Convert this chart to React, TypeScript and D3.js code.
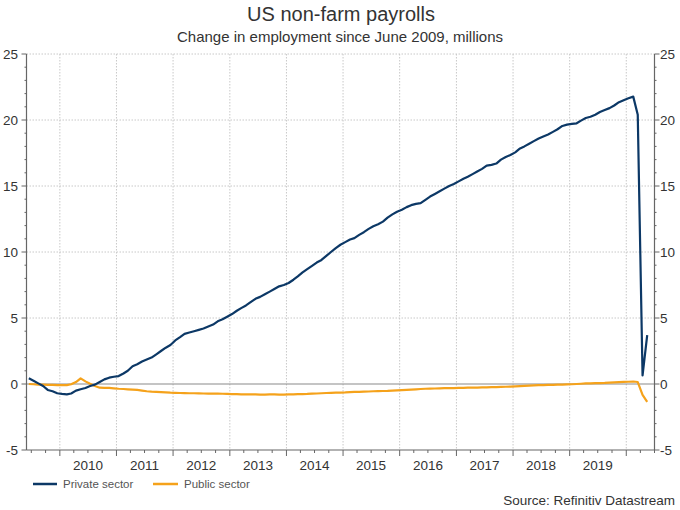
import React from "react";
import * as d3 from "d3";

// Monthly values, June 2009 .. May 2020 (millions, change since June 2009)
const startYear = 2009;
const startMonth = 5; // June (0-based)

const privateSector: number[] = [
  // 2009 Jun-Dec
  0.43, 0.25, 0.05, -0.15, -0.45, -0.55, -0.7,
  // 2010
  -0.75, -0.78, -0.72, -0.5, -0.4, -0.3, -0.15, -0.05, 0.15, 0.35, 0.48, 0.55,
  // 2011
  0.6, 0.8, 1.0, 1.35, 1.5, 1.7, 1.85, 2.0, 2.25, 2.5, 2.75, 2.95,
  // 2012
  3.3, 3.55, 3.8, 3.9, 4.0, 4.1, 4.2, 4.35, 4.5, 4.75, 4.9, 5.1,
  // 2013
  5.3, 5.55, 5.75, 5.95, 6.2, 6.45, 6.6, 6.8, 7.0, 7.2, 7.4, 7.5,
  // 2014
  7.65, 7.9, 8.15, 8.45, 8.7, 8.95, 9.2, 9.4, 9.7, 10.0, 10.3, 10.55,
  // 2015
  10.75, 10.95, 11.05, 11.3, 11.5, 11.75, 11.95, 12.1, 12.3, 12.6, 12.85, 13.05,
  // 2016
  13.2, 13.4, 13.55, 13.65, 13.7, 13.95, 14.2, 14.4, 14.6, 14.8, 15.0, 15.15,
  // 2017
  15.35, 15.55, 15.7, 15.9, 16.1, 16.3, 16.55, 16.6, 16.7, 17.0, 17.2, 17.35,
  // 2018
  17.55, 17.85, 18.0, 18.2, 18.4, 18.6, 18.75, 18.9, 19.1, 19.3, 19.55, 19.65,
  // 2019
  19.7, 19.75, 19.95, 20.15, 20.25, 20.4, 20.6, 20.75, 20.9, 21.1, 21.35, 21.5,
  // 2020 Jan-May
  21.65, 21.77, 20.4, 0.65, 3.7,
];

const publicSector: number[] = [
  // 2009 Jun-Dec
  0, -0.02, -0.04, -0.05, -0.06, -0.07, -0.08,
  // 2010
  -0.08, -0.08, -0.02, 0.15, 0.43, 0.2, 0.02, -0.15, -0.28, -0.3, -0.3, -0.33,
  // 2011
  -0.36, -0.38, -0.4, -0.42, -0.45, -0.5, -0.55, -0.58, -0.6, -0.62, -0.64, -0.66,
  // 2012
  -0.67, -0.68, -0.69, -0.7, -0.7, -0.71, -0.72, -0.73, -0.72, -0.73, -0.74, -0.75,
  // 2013
  -0.76, -0.77, -0.78, -0.78, -0.78, -0.79, -0.8, -0.8, -0.79, -0.79, -0.8, -0.8,
  // 2014
  -0.79, -0.78, -0.77, -0.76, -0.75, -0.73, -0.72, -0.7, -0.68, -0.67, -0.66, -0.65,
  // 2015
  -0.64, -0.62, -0.6, -0.6, -0.58, -0.57, -0.55, -0.54, -0.53, -0.52, -0.5, -0.48,
  // 2016
  -0.46, -0.44, -0.42, -0.4, -0.38, -0.36, -0.35, -0.34, -0.33, -0.32, -0.31, -0.31,
  // 2017
  -0.3, -0.29, -0.28, -0.27, -0.27, -0.26, -0.25, -0.24, -0.23, -0.22, -0.21, -0.2,
  // 2018
  -0.18, -0.16, -0.14, -0.12, -0.1, -0.09, -0.08, -0.07, -0.06, -0.05, -0.04, -0.03,
  // 2019
  -0.02, 0, 0.02, 0.04, 0.05, 0.06, 0.07, 0.08, 0.1, 0.12, 0.14, 0.16,
  // 2020 Jan-May
  0.17, 0.19, 0.15, -0.82, -1.35,
];

const yearLabels: number[] = [2010, 2011, 2012, 2013, 2014, 2015, 2016, 2017, 2018, 2019];
const yTicks: number[] = [-5, 0, 5, 10, 15, 20, 25];
const gridValues: number[] = [5, 10, 15, 20, 25];

const seriesNames = ["Private sector", "Public sector"];
const seriesColors = ["#0c3866", "#f5a21b"];

const W = 680;
const H = 510;
const left = 26.5;
const right = 654.5;
const top = 54;
const bottom = 450;
const FONT = "'Liberation Sans', Arial, sans-serif";

export default function App() {
  const dates = privateSector.map((_, i) => new Date(startYear, startMonth + i, 15));

  const x = d3
    .scaleTime()
    .domain([new Date(2009, 4, 31), new Date(2020, 6, 1)])
    .range([left, right]);
  const y = d3.scaleLinear().domain([-5, 25]).range([bottom, top]);

  const line = d3
    .line<number>()
    .x((_, i) => x(dates[i]))
    .y((d) => y(d));

  const yearStarts = d3.range(2010, 2021).map((yr) => new Date(yr, 0, 1));
  const quarterTicks = d3.timeMonth
    .every(3)!
    .range(new Date(2009, 5, 1), new Date(2020, 6, 2))
    .filter((d) => d.getMonth() !== 0);
  const minorY = d3.range(-5, 26).filter((v) => v % 5 !== 0);

  return (
    <svg
      width={W}
      height={H}
      style={{ position: "absolute", left: 0, top: 0, background: "#fff" }}
      fontFamily={FONT}
    >
      {/* titles */}
      <text x={341} y={20.5} textAnchor="middle" fontSize={20} fill="#333">
        US non-farm payrolls
      </text>
      <text x={340} y={42} textAnchor="middle" fontSize={15} fill="#333">
        Change in employment since June 2009, millions
      </text>

      {/* grid */}
      {gridValues.map((v) => (
        <line
          key={"h" + v}
          x1={left}
          x2={right}
          y1={y(v)}
          y2={y(v)}
          stroke="#c8c8c8"
          strokeWidth={1}
          strokeDasharray="1.5,1.5"
        />
      ))}
      {yearStarts.map((d, i) => (
        <line
          key={"v" + i}
          x1={x(d)}
          x2={x(d)}
          y1={top}
          y2={bottom}
          stroke="#c8c8c8"
          strokeWidth={1}
          strokeDasharray="1.5,1.5"
        />
      ))}

      {/* zero line */}
      <line x1={left} x2={right} y1={y(0)} y2={y(0)} stroke="#8a8a8a" strokeWidth={1.2} />

      {/* axes */}
      <line x1={left} x2={left} y1={top} y2={bottom} stroke="#666" strokeWidth={1.2} />
      <line x1={right} x2={right} y1={top} y2={bottom} stroke="#666" strokeWidth={1.2} />
      <line x1={left} x2={right} y1={bottom} y2={bottom} stroke="#666" strokeWidth={1.2} />

      {yTicks.map((v) => (
        <g key={"yt" + v}>
          <line x1={left - 5} x2={left} y1={y(v)} y2={y(v)} stroke="#666" />
          <line x1={right} x2={right + 5} y1={y(v)} y2={y(v)} stroke="#666" />
          <text x={left - 8.5} y={y(v) + 4.5} textAnchor="end" fontSize={13.5} fill="#333">
            {v}
          </text>
          <text x={right + 5.5} y={y(v) + 4.5} textAnchor="start" fontSize={13.5} fill="#333">
            {v}
          </text>
        </g>
      ))}
      {minorY.map((v) => (
        <g key={"my" + v}>
          <line x1={left - 2} x2={left} y1={y(v)} y2={y(v)} stroke="#666" />
          <line x1={right} x2={right + 2} y1={y(v)} y2={y(v)} stroke="#666" />
        </g>
      ))}
      {yearStarts.map((d, i) => (
        <line key={"xt" + i} x1={x(d)} x2={x(d)} y1={bottom} y2={bottom + 6} stroke="#666" />
      ))}
      {quarterTicks.map((d, i) => (
        <line key={"xq" + i} x1={x(d)} x2={x(d)} y1={bottom} y2={bottom + 3} stroke="#666" />
      ))}
      {yearLabels.map((yr) => (
        <text
          key={"xl" + yr}
          x={x(new Date(yr, 6, 1))}
          y={469.5}
          textAnchor="middle"
          fontSize={13.5}
          fill="#333"
        >
          {yr}
        </text>
      ))}

      {/* series */}
      <path d={line(publicSector) || ""} fill="none" stroke={seriesColors[1]} strokeWidth={2.2} strokeLinejoin="round" />
      <path d={line(privateSector) || ""} fill="none" stroke={seriesColors[0]} strokeWidth={2.2} strokeLinejoin="round" />

      {/* legend */}
      <line x1={33} x2={57} y1={484} y2={484} stroke={seriesColors[0]} strokeWidth={2.5} />
      <text x={63} y={488} fontSize={11.5} fill="#555">
        {seriesNames[0]}
      </text>
      <line x1={153} x2={178} y1={484} y2={484} stroke={seriesColors[1]} strokeWidth={2.5} />
      <text x={184} y={488} fontSize={11.5} fill="#555">
        {seriesNames[1]}
      </text>

      {/* source */}
      <text x={675} y={505} textAnchor="end" fontSize={13.5} fill="#333">
        Source: Refinitiv Datastream
      </text>
    </svg>
  );
}
